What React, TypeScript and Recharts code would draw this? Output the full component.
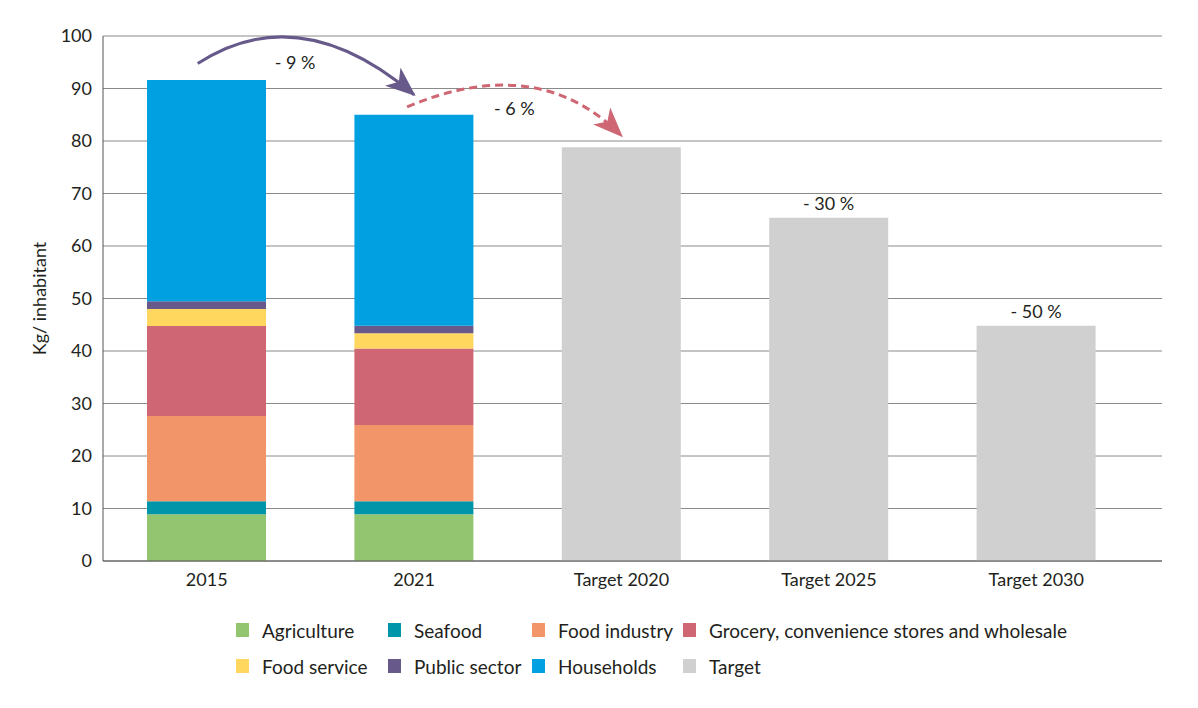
import React from "react";
import {
  Bar,
  BarChart,
  CartesianGrid,
  LabelList,
  ReferenceLine,
  XAxis,
  YAxis,
} from "recharts";

const categories = ["2015", "2021", "Target 2020", "Target 2025", "Target 2030"];
const agriculture = [8.9, 8.9, 0, 0, 0];
const seafood = [2.5, 2.5, 0, 0, 0];
const foodIndustry = [16.2, 14.5, 0, 0, 0];
const grocery = [17.15, 14.6, 0, 0, 0];
const foodService = [3.25, 2.9, 0, 0, 0];
const publicSector = [1.5, 1.4, 0, 0, 0];
const households = [42.1, 40.2, 0, 0, 0];
const target = [0, 0, 78.8, 65.4, 44.8];
const targetLabels = ["", "", "", "- 30 %", "- 50 %"];
const yTicks = [0, 10, 20, 30, 40, 50, 60, 70, 80, 90, 100];

const series = [
  { key: "agriculture", name: "Agriculture", color: "#93c470", values: agriculture },
  { key: "seafood", name: "Seafood", color: "#0095a9", values: seafood },
  { key: "foodIndustry", name: "Food industry", color: "#f2966a", values: foodIndustry },
  { key: "grocery", name: "Grocery, convenience stores and wholesale", color: "#cf6673", values: grocery },
  { key: "foodService", name: "Food service", color: "#ffd75e", values: foodService },
  { key: "publicSector", name: "Public sector", color: "#675a8b", values: publicSector },
  { key: "households", name: "Households", color: "#00a0e1", values: households },
  { key: "target", name: "Target", color: "#d0d0d0", values: target },
];

const data = categories.map((name, i) => {
  const row: Record<string, string | number> = { name, targetLabel: targetLabels[i] };
  series.forEach((s) => {
    row[s.key] = s.values[i];
  });
  return row;
});

const FONT = "Lato, 'Noto Sans', sans-serif";
const INK = "#231f20";

// curved arrow drawn between the two ends of a ReferenceLine segment
const makeArrow =
  (id: string, color: string, dashed: boolean, label: string, shift: number, lift: number, ctrl: number, labelFrac: number, labelDy: number) =>
  (props: any) => {
    const x1 = props.x1 + shift;
    const { y1, x2, y2 } = props;
    const cx = x1 + (x2 - x1) * ctrl;
    const cy = Math.min(y1, y2) - lift;
    return (
      <g>
        <defs>
          <marker
            id={id}
            viewBox="0 0 30 24"
            refX="28"
            refY="12"
            markerWidth="30"
            markerHeight="24"
            orient="auto"
            markerUnits="userSpaceOnUse"
          >
            <path d="M0,0 L30,12 L0,24 L8,12 Z" fill={color} />
          </marker>
        </defs>
        <path
          d={`M${x1},${y1} Q${cx},${cy} ${x2},${y2}`}
          fill="none"
          stroke={color}
          strokeWidth={3}
          strokeDasharray={dashed ? "8 5" : undefined}
          markerEnd={`url(#${id})`}
        />
        <text
          x={x1 + (x2 - x1) * labelFrac}
          y={y1 + labelDy}
          textAnchor="middle"
          dominantBaseline="central"
          fontFamily={FONT}
          fontSize={18}
          fill={INK}
        >
          {label}
        </text>
      </g>
    );
  };

const TargetLabel = (props: any) => {
  const { x, y, width, value } = props;
  if (!value) return null;
  return (
    <text
      x={x + width / 2}
      y={y - 15}
      textAnchor="middle"
      dominantBaseline="central"
      fontFamily={FONT}
      fontSize={18}
      fill={INK}
    >
      {value}
    </text>
  );
};

const legendColumns = [236, 388, 532, 683];
const legendRows = [630, 666];

const Legend = () => (
  <>
    {series.map((s, i) => (
      <div
        key={s.key}
        style={{
          position: "absolute",
          left: legendColumns[i % 4],
          top: legendRows[Math.floor(i / 4)] - 12,
          height: 24,
          display: "flex",
          alignItems: "center",
          fontFamily: FONT,
          fontSize: 19,
          color: INK,
          whiteSpace: "nowrap",
        }}
      >
        <span style={{ width: 13, height: 14, background: s.color, marginRight: 13, display: "inline-block" }} />
        {s.name}
      </div>
    ))}
  </>
);

const App = () => (
  <div style={{ position: "absolute", left: 0, top: 0, width: 1198, height: 708, background: "#fff" }}>
    <BarChart
      width={1198}
      height={708}
      data={data}
      margin={{ top: 36, right: 36, bottom: 117, left: 0 }}
    >
      <CartesianGrid vertical={false} stroke="#8a8a8a" strokeWidth={1} />
      <XAxis
        dataKey="name"
        height={30}
        tickLine={false}
        tickSize={0}
        tickMargin={12}
        padding={{ left: 0, right: 22 }}
        axisLine={{ stroke: "#555" }}
        tick={{ fontFamily: FONT, fontSize: 18, fill: INK }}
      />
      <YAxis
        width={103}
        domain={[0, 100]}
        ticks={yTicks}
        interval={0}
        tickLine={false}
        tickSize={0}
        tickMargin={11}
        axisLine={{ stroke: "#555" }}
        tick={{ fontFamily: FONT, fontSize: 18, fill: INK }}
        label={{
          value: "Kg/ inhabitant",
          angle: -90,
          position: "center",
          dx: -12,
          style: { fontFamily: FONT, fontSize: 18, fill: INK },
        }}
      />
      {series.map((s) => (
        <Bar
          key={s.key}
          dataKey={s.key}
          name={s.name}
          stackId="a"
          fill={s.color}
          barSize={119}
          isAnimationActive={false}
        >
          {s.key === "target" && <LabelList dataKey="targetLabel" content={TargetLabel} />}
        </Bar>
      ))}
      <ReferenceLine
        segment={[
          { x: "2015", y: 94.75 },
          { x: "2021", y: 88.8 },
        ]}
        ifOverflow="visible"
        shape={makeArrow("arrow-purple", "#675a8b", false, "- 9 %", -9, 66, 0.47, 0.45, -2)}
      />
      <ReferenceLine
        segment={[
          { x: "2021", y: 86.5 },
          { x: "Target 2020", y: 81 },
        ]}
        ifOverflow="visible"
        shape={makeArrow("arrow-red", "#cf6673", true, "- 6 %", -7, 55, 0.61, 0.5, 1)}
      />
    </BarChart>
    <Legend />
  </div>
);

export default App;
